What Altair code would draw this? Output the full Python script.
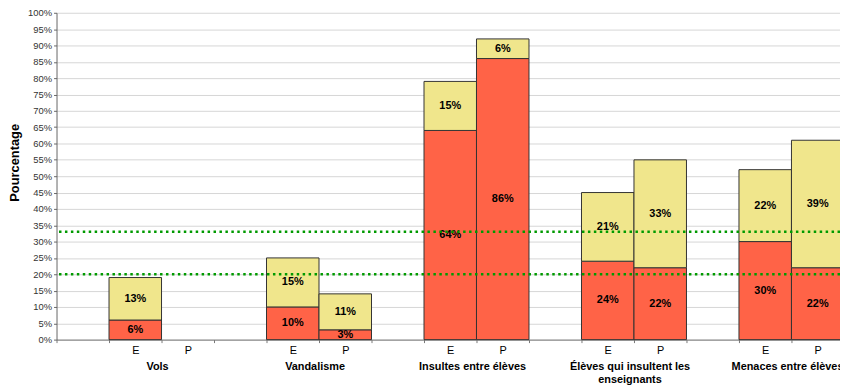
import altair as alt
import pandas as pd

FONT = "Liberation Sans"

categories = ["Vols", "Vandalisme", "Insultes entre élèves",
              "Élèves qui insultent les\nenseignants", "Menaces entre élèves"]
groups = ["E", "P"]
red_E = [6, 10, 64, 24, 30]
yellow_E = [13, 15, 15, 21, 22]
red_P = [None, 3, 86, 22, 22]
yellow_P = [None, 11, 6, 33, 39]
ref_lines = [20, 33]
y_ticks = list(range(0, 101, 5))

rows = []
for i in range(len(categories)):
    for grp, reds, yels in (("E", red_E, yellow_E), ("P", red_P, yellow_P)):
        if reds[i] is None:
            continue
        rows.append(dict(slot=f"{i}|{grp}", part="a_red", value=reds[i], order=0))
        rows.append(dict(slot=f"{i}|{grp}", part="b_yellow", value=yels[i], order=1))
df = pd.DataFrame(rows)

slots = [f"{i}|{s}" for i in range(len(categories)) for s in ("",) + tuple(groups)]

W, H = 791, 330

xscale = alt.Scale(domain=slots, range=[0, 795], paddingInner=0, paddingOuter=0)
xaxis = alt.Axis(title=None, labelExpr="split(datum.label, '|')[1]", labelAngle=0,
                 tickBand="extent", tickSize=3, labelPadding=2, grid=False,
                 domainColor="#777", tickColor="#777", labelFont=FONT,
                 labelFontSize=11, labelColor="black", labelBaseline="top")
yscale = alt.Scale(domain=[0, 100], nice=False)
yaxis = alt.Axis(title="Pourcentage", values=y_ticks, labelExpr="datum.value + '%'",
                 labelFont=FONT, labelFontSize=9.5, labelColor="#333",
                 tickSize=3, tickColor="#666", domainColor="#666",
                 gridColor="#d6d6d6", labelPadding=2,
                 titleFont=FONT, titleFontSize=13, titleFontWeight="bold",
                 titleColor="black", titleAngle=-90, titleX=-42, titleY=151,
                 titleAlign="center", titleBaseline="middle")

X = alt.X("slot:N", scale=xscale, sort=slots, axis=xaxis)

bars = alt.Chart(df).mark_bar(stroke="#333", strokeWidth=1).encode(
    x=X,
    y=alt.Y("value:Q", stack="zero", scale=yscale, axis=yaxis),
    color=alt.Color("part:N", scale=alt.Scale(domain=["a_red", "b_yellow"],
                                              range=["#FF6347", "#F0E68C"]), legend=None),
    order=alt.Order("order:Q"),
)

labels = alt.Chart(df).transform_stack(
    stack="value", as_=["v0", "v1"], groupby=["slot"], sort=[alt.SortField("order")]
).transform_calculate(
    mid="(datum.v0 + datum.v1) / 2", lab="datum.value + '%'"
).mark_text(font=FONT, fontSize=11, fontWeight="bold", color="black").encode(
    x=X,
    y=alt.Y("mid:Q", scale=yscale, axis=yaxis),
    text="lab:N",
)

rules = alt.Chart(pd.DataFrame({"ref": ref_lines})).mark_rule(
    color="#009a00", strokeDash=[2.5, 3.5], strokeWidth=2.5
).encode(y=alt.Y("ref:Q", scale=yscale, axis=yaxis))

cat_df = pd.DataFrame({"slot": [f"{i}|P" for i in range(len(categories))],
                       "name": categories})
cat_labels = alt.Chart(cat_df).mark_text(
    font=FONT, fontSize=11, fontWeight="bold", color="black",
    baseline="top", lineBreak="\n", lineHeight=13, dx=-4
).encode(
    x=alt.X("slot:N", scale=xscale, sort=slots, axis=xaxis, bandPosition=0),
    y=alt.value(H + 22),
    text="name:N",
)

chart = alt.layer(bars, labels, rules, cat_labels).properties(
    width=W, height=H,
    autosize=alt.AutoSizeParams(type="none"),
    padding={"left": 49, "top": 3, "right": 0, "bottom": 45},
    background="white",
).configure_view(stroke=None)

chart.save("out.html", embed_options={"renderer": "svg", "actions": False})
